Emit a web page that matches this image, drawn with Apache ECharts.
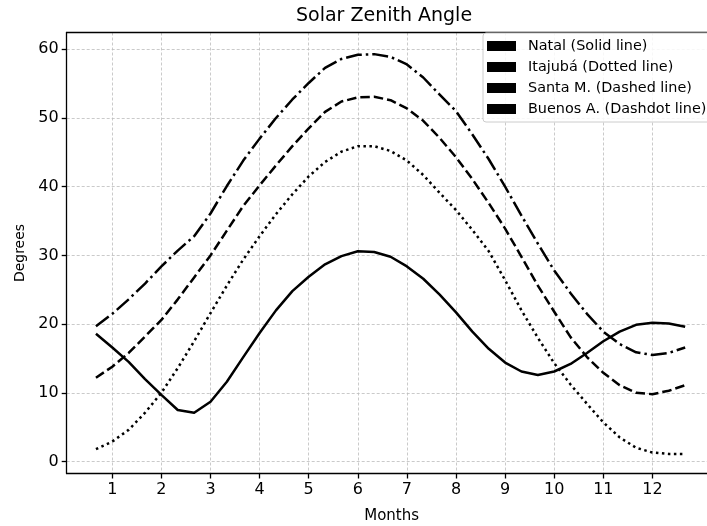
<!DOCTYPE html>
<html>
<head>
<meta charset="utf-8">
<script src="https://cdn.jsdelivr.net/npm/echarts@6/dist/echarts.min.js"></script>
<style>html,body{margin:0;padding:0;background:#fff;}#c{width:707px;height:526px;}</style>
</head>
<body>
<div id="c"></div>
<script>
const months = [0.667,1.0,1.333,1.667,2.0,2.333,2.667,3.0,3.333,3.667,4.0,4.333,4.667,5.0,5.333,5.667,6.0,6.333,6.667,7.0,7.333,7.667,8.0,8.333,8.667,9.0,9.333,9.667,10.0,10.333,10.667,11.0,11.333,11.667,12.0,12.333,12.667];
const natal = [18.6,16.6,14.5,12.0,9.7,7.5,7.1,8.7,11.6,15.2,18.7,22.0,24.8,26.9,28.7,29.9,30.6,30.5,29.8,28.4,26.6,24.3,21.7,18.9,16.4,14.4,13.1,12.6,13.1,14.2,15.8,17.5,18.9,19.9,20.2,20.1,19.6];
const itajuba = [1.8,2.9,4.6,7.1,10.0,13.6,17.5,21.6,25.6,29.4,32.8,36.0,38.9,41.5,43.6,45.1,45.9,45.9,45.2,43.8,41.7,39.1,36.6,33.7,30.6,26.4,22.0,18.0,14.3,11.2,8.4,5.7,3.5,2.0,1.3,1.1,1.1];
const santaM = [12.2,13.8,15.8,18.2,20.6,23.6,26.8,30.0,33.6,37.2,40.2,43.1,45.9,48.5,50.9,52.4,53.0,53.1,52.6,51.4,49.6,47.1,44.3,41.1,37.6,33.9,29.8,25.6,21.8,18.1,15.2,12.9,11.1,10.0,9.8,10.3,11.1];
const buenosA = [19.7,21.5,23.6,25.9,28.4,30.7,32.8,36.1,40.1,43.8,47.0,50.0,52.7,55.1,57.3,58.6,59.2,59.3,58.9,57.8,55.9,53.4,51.0,47.6,44.0,40.0,35.8,31.7,27.8,24.5,21.5,18.9,17.1,15.9,15.5,15.8,16.6];
const xTicks = [1,2,3,4,5,6,7,8,9,10,11,12];
const yTicks = [0,10,20,30,40,50,60];
const names = ['Natal (Solid line)','Itajubá (Dotted line)','Santa M. (Dashed line)','Buenos A. (Dashdot line)'];

const pair = arr => months.map((m,i)=>[m,arr[i]]);
const FONT = 'DejaVu Sans';
const chart = echarts.init(document.getElementById('c'), null, {renderer:'canvas'});
const lw = 2.5;
function mk(name, arr, type){
  return {name, type:'line', data:pair(arr), showSymbol:false, symbol:'none', smooth:false,
    lineStyle:{color:'#000', width:lw, type:type, cap:'butt', join:'round'},
    itemStyle:{color:'#000'}, animation:false, z:3};
}
chart.setOption({
  animation:false,
  backgroundColor:'#fff',
  textStyle:{fontFamily:FONT},
  graphic:[{type:'text', left:391-95, top:7, style:{text:'Solar Zenith Angle', font:'19px "DejaVu Sans"', fill:'#000'}}],
  grid:{left:66.7, top:32.5, bottom:52.5, right:-9.5, containLabel:false, outerBoundsMode:'none'},
  legend:{orient:'vertical', left:483, top:33, data:names, icon:'rect', itemWidth:29, itemHeight:10, itemGap:7,
    padding:[6,10,6,4], backgroundColor:'rgba(255,255,255,0.85)', borderColor:'#cccccc', borderWidth:1, borderRadius:3,
    textStyle:{fontFamily:FONT, fontSize:14.4, color:'#000', lineHeight:14, padding:[0,0,0,7]},
    itemStyle:{color:'#000'}, lineStyle:{width:0}, selectedMode:false},
  xAxis:[{type:'value', min:0.0713, max:13.305, position:'bottom',
    name:'Months', nameLocation:'middle', nameGap:35, nameTextStyle:{fontFamily:FONT, fontSize:15, color:'#000'},
    axisLine:{show:true, onZero:false, lineStyle:{color:'#000', width:1.3}},
    axisTick:{show:true, length:5, customValues:xTicks, lineStyle:{color:'#000', width:1.3}},
    axisLabel:{show:true, customValues:xTicks, fontFamily:FONT, fontSize:16, color:'#000', margin:8},
    splitLine:{show:true, lineStyle:{color:'#bdbdbd', width:0.8, type:[3,2]}}},
    {type:'value', min:0.0713, max:13.305, position:'top',
    axisLine:{show:true, onZero:false, lineStyle:{color:'#000', width:1.3}},
    axisTick:{show:false}, axisLabel:{show:false}, splitLine:{show:false}}],
  yAxis:{type:'value', min:-1.75, max:62.45,
    name:'Degrees', nameLocation:'middle', nameGap:37, nameRotate:90, nameTextStyle:{fontFamily:FONT, fontSize:14, color:'#000'},
    axisLine:{show:true, onZero:false, lineStyle:{color:'#000', width:1.3}},
    axisTick:{show:true, length:5, customValues:yTicks, lineStyle:{color:'#000', width:1.3}},
    axisLabel:{show:true, customValues:yTicks, fontFamily:FONT, fontSize:16, color:'#000', margin:8},
    splitLine:{show:true, lineStyle:{color:'#bdbdbd', width:0.8, type:[3,2]}}},
  series:[
    mk(names[0], natal, 'solid'),
    mk(names[1], itajuba, [2.5,3.5]),
    mk(names[2], santaM, [9.5,4]),
    mk(names[3], buenosA, [16,4,2.5,4])
  ]
});
</script>
</body>
</html>
